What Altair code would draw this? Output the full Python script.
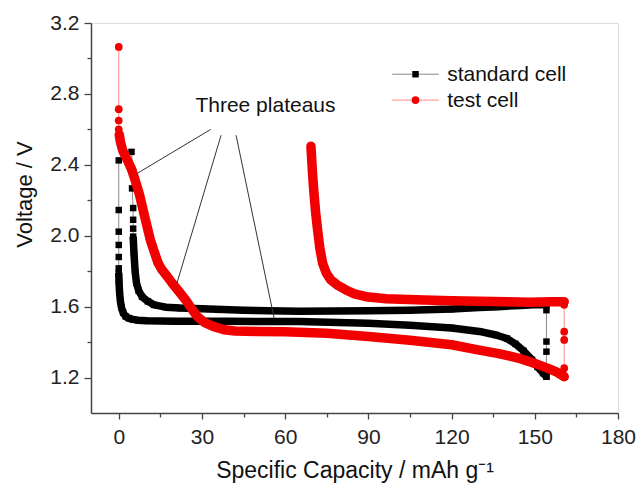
import altair as alt
import pandas as pd

# ---------------- data ----------------
# standard cell (black squares)
std_start_cap = [0, 0, 0, 0, 0, 0]
std_start_v = [2.425, 2.145, 2.023, 1.948, 1.88, 1.816]
std_dis_cap = [0, 0.1, 0.3, 0.6, 1.0, 1.6, 2.5, 3.6, 5, 7, 10, 20, 40, 65, 90, 105,
               120, 130, 136, 140, 143, 146, 149, 151, 153, 154.2]
std_dis_v = [1.79, 1.74, 1.68, 1.63, 1.595, 1.565, 1.545, 1.535, 1.528, 1.523, 1.52, 1.518,
             1.517, 1.516, 1.506, 1.495, 1.48, 1.46, 1.44, 1.42, 1.39, 1.35, 1.30, 1.26, 1.225, 1.205]
std_jump_cap = [154.2, 154.2, 154.2, 154.2]
std_jump_v = [1.205, 1.346, 1.403, 1.58]
std_chg_cap = [154.2, 151, 145, 137, 130, 120, 105, 90, 65, 45, 30, 22, 17, 12.7, 10.5,
               8.4, 7.2, 6.4, 5.9, 5.5, 5.2]
std_chg_v = [1.61, 1.612, 1.607, 1.60, 1.595, 1.586, 1.58, 1.577, 1.574, 1.58, 1.588, 1.592,
             1.597, 1.61, 1.63, 1.656, 1.69, 1.733, 1.80, 1.90, 1.995]
std_end_cap = [5.2, 5.2, 5.2, 4.8, 5.2, 4.6]
std_end_v = [2.04, 2.09, 2.156, 2.267, 2.36, 2.473]

# test cell (red circles)
tst_start_cap = [0, 0, 0, 0]
tst_start_v = [3.065, 2.714, 2.65, 2.60]
tst_dis_cap = [0.2, 0.6, 1.45, 3, 4.5, 6, 7.5, 8.8, 10.1, 11.4, 12.8, 14.2, 15.5, 17.5, 19.3,
               21.7, 24.1, 26.2, 28.3, 31, 34.3, 38, 42, 50, 60, 75, 90, 105, 120, 130, 137,
               144, 150, 155, 158, 160.6]
tst_dis_v = [2.57, 2.53, 2.48, 2.43, 2.38, 2.31, 2.23, 2.145, 2.06, 1.976, 1.91, 1.845, 1.81,
             1.77, 1.732, 1.685, 1.638, 1.59, 1.544, 1.51, 1.487, 1.47, 1.463, 1.46, 1.458,
             1.45, 1.432, 1.41, 1.385, 1.355, 1.335, 1.31, 1.28, 1.25, 1.23, 1.205]
tst_jump_cap = [160.6, 160.6, 160.6, 160.6, 160.6]
tst_jump_v = [1.205, 1.253, 1.412, 1.459, 1.61]
tst_chg_cap = [160.6, 156, 148, 140, 130, 120, 110, 96.4, 89.2, 85, 81.9, 79, 76.5, 74.8,
               73.5, 72.5, 71.7, 71, 70.5, 70, 69.6, 69.3]
tst_chg_v = [1.628, 1.627, 1.625, 1.627, 1.63, 1.633, 1.638, 1.645, 1.656, 1.672, 1.694,
             1.72, 1.75, 1.79, 1.845, 1.93, 2.032, 2.13, 2.22, 2.32, 2.42, 2.505]

series_names = ["standard cell", "test cell"]

# annotation "Three plateaus"
annot_text = "Three plateaus"
annot_x1 = [33.2, 36.9, 42.3]
annot_y1 = [2.60, 2.567, 2.567]
annot_x2 = [6.5, 21.0, 56.0]
annot_y2 = [2.35, 1.733, 1.536]

x_ticks = [0, 30, 60, 90, 120, 150, 180]
x_minor = [15, 45, 75, 105, 135, 165]
y_ticks = [1.2, 1.6, 2.0, 2.4, 2.8, 3.2]
y_minor = [1.4, 1.8, 2.2, 2.6, 3.0]

# ---------------- build tables ----------------
def build(name, segs):
    rows = []
    k = 0
    for seg, caps, vs in segs:
        for c, v in zip(caps, vs):
            rows.append({"series": name, "seg": seg, "cap": c, "v": v, "order": k})
            k += 1
    return pd.DataFrame(rows)

std_df = build(series_names[0], [("start", std_start_cap, std_start_v),
                                 ("dis", std_dis_cap, std_dis_v),
                                 ("jump", std_jump_cap, std_jump_v),
                                 ("chg", std_chg_cap, std_chg_v),
                                 ("end", std_end_cap, std_end_v)])
tst_df = build(series_names[1], [("start", tst_start_cap, tst_start_v),
                                 ("dis", tst_dis_cap, tst_dis_v),
                                 ("jump", tst_jump_cap, tst_jump_v),
                                 ("chg", tst_chg_cap, tst_chg_v)])

FONT = "Liberation Sans"
AX = "#444444"
XDOM = [-10, 180]
YDOM = [1.0, 3.2]

x_axis = alt.Axis(values=x_ticks, format="d", tickSize=6, labelFontSize=21, labelPadding=7,
                  labelColor="#222", labelFont=FONT, title="Specific Capacity / mAh g\u207b\u00b9",
                  titleFont=FONT, titleFontSize=23, titleFontWeight="normal", titleColor="#111",
                  titleY=64, titleBaseline="alphabetic", grid=False, domainColor=AX,
                  domainWidth=1.5, tickColor=AX, tickWidth=1.3, labelFlush=False, orient="bottom")
y_axis = alt.Axis(values=y_ticks, format=".1f", tickSize=7, labelFontSize=21, labelPadding=5,
                  labelColor="#222", labelFont=FONT, title="Voltage / V", titleFont=FONT,
                  titleFontSize=22, titleFontWeight="normal", titleColor="#111", titleX=-60,
                  titleY=171, titleBaseline="alphabetic", titleAngle=270, grid=False,
                  domainColor=AX, domainWidth=1.5, tickColor=AX, tickWidth=1.3,
                  labelFlush=False, orient="left")


def X(field="cap"):
    return alt.X(f"{field}:Q", scale=alt.Scale(domain=XDOM, nice=False, zero=False), axis=x_axis)


def Y(field="v"):
    return alt.Y(f"{field}:Q", scale=alt.Scale(domain=YDOM, nice=False, zero=False), axis=y_axis)


BLACK = "#000000"
RED = "#f20000"

def series_layers(df, color, thin_color, thick_w, shape, size, cap):
    thin = alt.Chart(df).mark_line(color=thin_color, strokeWidth=1).encode(
        x=X(), y=Y(), order="order:Q")
    thick = alt.Chart(df[df["seg"].isin(["dis", "chg"])]).mark_line(
        color=color, strokeWidth=thick_w, strokeCap=cap, strokeJoin="round").encode(
        x=X(), y=Y(), order="order:Q", detail="seg:N")
    pts = alt.Chart(df).mark_point(shape=shape, filled=True, size=size, color=color,
                                   opacity=1).encode(x=X(), y=Y())
    return [thin, thick, pts]

std_layers = series_layers(std_df, BLACK, "#8a8a8a", 7.5, "square", 42, "butt")
tst_layers = series_layers(tst_df, RED, "#ff8a8a", 9.5, "circle", 60, "round")

annot_df = pd.DataFrame({"x1": annot_x1, "y1": annot_y1, "x2": annot_x2, "y2": annot_y2})
annot_lines = alt.Chart(annot_df).mark_rule(color="#333333", strokeWidth=1).encode(
    x=X("x1"), y=Y("y1"), x2="x2:Q", y2="y2:Q")
annot_label = alt.Chart(pd.DataFrame({"t": [annot_text], "x": [52.9], "y": [2.697]})).mark_text(
    font=FONT, fontSize=21, color="#111", align="center", baseline="alphabetic").encode(
    x=X("x"), y=Y("y"), text="t:N")

# legend (drawn inside the plot)
leg_df = pd.DataFrame({"label": series_names, "y": [2.911, 2.765],
                       "x1": [98.6, 98.6], "x2": [115.4, 115.4], "xm": [107.0, 107.0],
                       "xt": [118.4, 118.4]})
leg_lines = alt.Chart(leg_df).mark_rule(strokeWidth=1).encode(
    x=X("x1"), x2="x2:Q", y=Y("y"),
    color=alt.Color("label:N", scale=alt.Scale(domain=series_names, range=["#8a8a8a", "#ff8a8a"]),
                    legend=None))
leg_sq = alt.Chart(leg_df[leg_df["label"] == series_names[0]]).mark_point(
    shape="square", filled=True, size=42, color=BLACK, opacity=1).encode(x=X("xm"), y=Y("y"))
leg_ci = alt.Chart(leg_df[leg_df["label"] == series_names[1]]).mark_point(
    shape="circle", filled=True, size=60, color=RED, opacity=1).encode(x=X("xm"), y=Y("y"))
leg_txt = alt.Chart(leg_df).mark_text(font=FONT, fontSize=21, color="#111", align="left",
                                      baseline="middle", dy=1).encode(
    x=X("xt"), y=Y("y"), text="label:N")

main = alt.layer(*std_layers, *tst_layers, annot_lines, annot_label,
                 leg_lines, leg_sq, leg_ci, leg_txt)

# minor ticks on a second pair of axes
minor = alt.Chart(pd.DataFrame({"cap": [0], "v": [1.2]})).mark_point(opacity=0).encode(
    x=alt.X("cap:Q", scale=alt.Scale(domain=XDOM, nice=False, zero=False),
            axis=alt.Axis(values=x_minor, labels=False, tickSize=4, domain=False, grid=False,
                          title=None, tickColor=AX, tickWidth=1.3, orient="bottom")),
    y=alt.Y("v:Q", scale=alt.Scale(domain=YDOM, nice=False, zero=False),
            axis=alt.Axis(values=y_minor, labels=False, tickSize=4, domain=False, grid=False,
                          title=None, tickColor=AX, tickWidth=1.3, orient="left")))

chart = alt.layer(main, minor).resolve_axis(x="independent", y="independent").properties(
    width=527, height=390,
    autosize=alt.AutoSizeParams(type="none"),
    padding={"left": 91, "top": 23, "right": 18, "bottom": 73},
).configure_view(stroke=AX, strokeWidth=1.5).configure(background="white")

chart.save("out.html", embed_options={"renderer": "svg", "actions": False})
